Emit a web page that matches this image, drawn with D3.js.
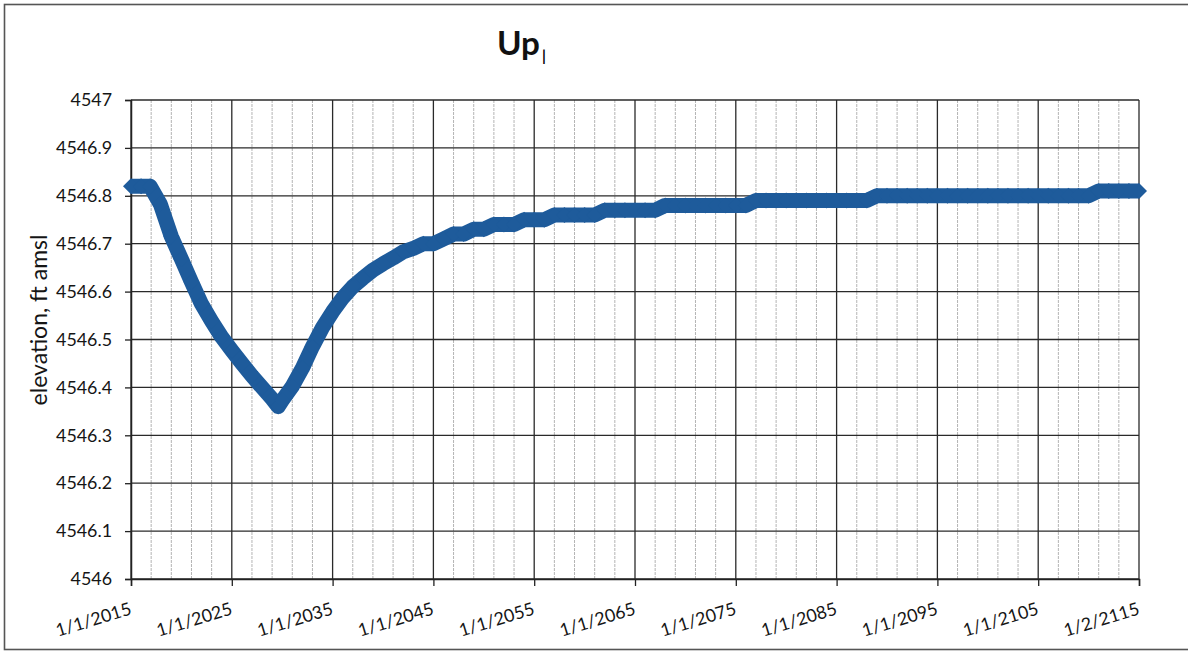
<!DOCTYPE html>
<html>
<head>
<meta charset="utf-8">
<script src="https://cdn.jsdelivr.net/npm/d3@7"></script>
<style>
  html, body { margin: 0; padding: 0; background: #fff; }
  svg { display: block; }
</style>
</head>
<body>
<svg id="chart" width="1188" height="654"></svg>
<script>
// ---- data ----
const title = "Up";
const yAxisTitle = "elevation, ft amsl";

const years = [
  2015, 2016, 2016.9, 2017.9, 2019, 2020, 2021, 2022, 2023, 2024,
  2025, 2026, 2027, 2028, 2029, 2029.6, 2030, 2031, 2032, 2033,
  2034, 2035, 2036, 2037, 2038, 2039, 2040, 2041, 2042, 2043,
  2044, 2045, 2046, 2047, 2048, 2049, 2050, 2051, 2052, 2053,
  2054, 2055, 2056, 2057, 2058, 2059, 2060, 2061, 2062, 2063,
  2064, 2065, 2066, 2067, 2068, 2069, 2070, 2071, 2072, 2073,
  2074, 2075, 2076, 2077, 2078, 2079, 2080, 2081, 2082, 2083,
  2084, 2085, 2086, 2087, 2088, 2089, 2090, 2091, 2092, 2093,
  2094, 2095, 2096, 2097, 2098, 2099, 2100, 2101, 2102, 2103,
  2104, 2105, 2106, 2107, 2108, 2109, 2110, 2111, 2112, 2113,
  2114, 2115
];
const elevation = [
  4546.82, 4546.82, 4546.82, 4546.783, 4546.715, 4546.668, 4546.62, 4546.574, 4546.538, 4546.505,
  4546.477, 4546.45, 4546.424, 4546.40, 4546.376, 4546.36, 4546.373, 4546.402, 4546.44, 4546.485,
  4546.525, 4546.558, 4546.587, 4546.61, 4546.628, 4546.645, 4546.658, 4546.67, 4546.683, 4546.69,
  4546.70, 4546.70, 4546.71, 4546.72, 4546.72, 4546.73, 4546.73, 4546.74, 4546.74, 4546.74,
  4546.75, 4546.75, 4546.75, 4546.76, 4546.76, 4546.76, 4546.76, 4546.76, 4546.77, 4546.77,
  4546.77, 4546.77, 4546.77, 4546.77, 4546.78, 4546.78, 4546.78, 4546.78, 4546.78, 4546.78,
  4546.78, 4546.78, 4546.78, 4546.79, 4546.79, 4546.79, 4546.79, 4546.79, 4546.79, 4546.79,
  4546.79, 4546.79, 4546.79, 4546.79, 4546.79, 4546.80, 4546.80, 4546.80, 4546.80, 4546.80,
  4546.80, 4546.80, 4546.80, 4546.80, 4546.80, 4546.80, 4546.80, 4546.80, 4546.80, 4546.80,
  4546.80, 4546.80, 4546.80, 4546.80, 4546.80, 4546.80, 4546.80, 4546.81, 4546.81, 4546.81,
  4546.81, 4546.81
];

const xTickYears = [2015, 2025, 2035, 2045, 2055, 2065, 2075, 2085, 2095, 2105, 2115];
const xTickLabels = ["1/1/2015", "1/1/2025", "1/1/2035", "1/1/2045", "1/1/2055", "1/1/2065",
                     "1/1/2075", "1/1/2085", "1/1/2095", "1/1/2105", "1/2/2115"];
const xMinorYears = [2017, 2019, 2021, 2023, 2027, 2029, 2031, 2033, 2037, 2039, 2041, 2043,
                     2047, 2049, 2051, 2053, 2057, 2059, 2061, 2063, 2067, 2069, 2071, 2073,
                     2077, 2079, 2081, 2083, 2087, 2089, 2091, 2093, 2097, 2099, 2101, 2103,
                     2107, 2109, 2111, 2113];
const yTickValues = [4546, 4546.1, 4546.2, 4546.3, 4546.4, 4546.5, 4546.6, 4546.7, 4546.8, 4546.9, 4547];
const yTickLabels = ["4546", "4546.1", "4546.2", "4546.3", "4546.4", "4546.5", "4546.6",
                     "4546.7", "4546.8", "4546.9", "4547"];

// ---- layout ----
const plot = { left: 131, right: 1139, top: 100, bottom: 579 };
const FONT = "Lato, 'Open Sans', 'DejaVu Sans', sans-serif";
const BLUE = "#1e5b9b";

const svg = d3.select("#chart");

// size a font so that a sample string has a given width in px
function fitSize(sample, targetWidth, weight) {
  const probe = svg.append("text")
    .attr("font-family", FONT).attr("font-size", 100)
    .attr("font-weight", weight || "normal").text(sample);
  const w = probe.node().getComputedTextLength();
  probe.remove();
  return 100 * targetWidth / w;
}
const yTickSize = Math.min(21, fitSize("4546.8", 56));
const xTickSize = Math.min(22, fitSize("1/1/2015", 78));
const yTitleSize = Math.min(23, fitSize(yAxisTitle, 176));
const titleSize = Math.min(34, fitSize(title, 43, "bold"));

const x = d3.scaleLinear().domain([2015, 2115]).range([plot.left, plot.right]);
const y = d3.scaleLinear().domain([4546, 4547]).range([plot.bottom, plot.top]);

// outer frame (scanned page border)
svg.append("rect")
  .attr("x", 4.5).attr("y", 4.5)
  .attr("width", 1200).attr("height", 645)
  .attr("fill", "none").attr("stroke", "#555").attr("stroke-width", 1.6);

// minor vertical gridlines
svg.append("g").selectAll("line").data(xMinorYears).join("line")
  .attr("x1", d => x(d)).attr("x2", d => x(d))
  .attr("y1", plot.top).attr("y2", plot.bottom)
  .attr("stroke", "#b4b4b4").attr("stroke-width", 1)
  .attr("stroke-dasharray", "3,1");

// major vertical gridlines
svg.append("g").selectAll("line").data(xTickYears).join("line")
  .attr("x1", d => x(d)).attr("x2", d => x(d))
  .attr("y1", plot.top).attr("y2", plot.bottom)
  .attr("stroke", "#2a2a2a").attr("stroke-width", 1.3);

// horizontal gridlines
svg.append("g").selectAll("line").data(yTickValues).join("line")
  .attr("x1", plot.left).attr("x2", plot.right)
  .attr("y1", d => y(d)).attr("y2", d => y(d))
  .attr("stroke", "#2a2a2a").attr("stroke-width", 1.3);

// y axis
const yAxis = d3.axisLeft(y).tickValues(yTickValues)
  .tickFormat((d, i) => yTickLabels[i]).tickSize(6).tickPadding(13);
const gy = svg.append("g").attr("transform", `translate(${plot.left},0)`).call(yAxis);
gy.select(".domain").attr("stroke", "#222").attr("stroke-width", 1.5);
gy.selectAll(".tick line").attr("stroke", "#222").attr("stroke-width", 1.3);
gy.selectAll(".tick text").attr("font-family", FONT).attr("font-size", yTickSize).attr("fill", "#151515");

// x axis
const xAxis = d3.axisBottom(x).tickValues(xTickYears)
  .tickFormat((d, i) => xTickLabels[i]).tickSize(7);
const gx = svg.append("g").attr("transform", `translate(0,${plot.bottom})`).call(xAxis);
gx.select(".domain").attr("stroke", "#222").attr("stroke-width", 1.5);
gx.selectAll(".tick line").attr("stroke", "#222").attr("stroke-width", 1.3);
gx.selectAll(".tick text")
  .attr("font-family", FONT).attr("font-size", xTickSize).attr("fill", "#151515")
  .attr("text-anchor", "end")
  .attr("y", 0).attr("dy", 0)
  .attr("transform", "translate(1,35) rotate(-17)");

// series: thick line + diamond markers
const pts = years.map((yr, i) => [yr, elevation[i]]);
const line = d3.line().x(d => x(d[0])).y(d => y(d[1]));
svg.append("path")
  .attr("d", line(pts))
  .attr("fill", "none").attr("stroke", BLUE)
  .attr("stroke-width", 15).attr("stroke-linejoin", "round").attr("stroke-linecap", "butt");

const r = 8;
svg.append("g").selectAll("path").data(pts).join("path")
  .attr("d", d => {
    const cx = x(d[0]), cy = y(d[1]);
    return `M${cx - r},${cy}L${cx},${cy - r}L${cx + r},${cy}L${cx},${cy + r}Z`;
  })
  .attr("fill", BLUE);

// title
const t = svg.append("text")
  .attr("x", 497).attr("y", 55)
  .attr("font-family", FONT).attr("fill", "#111");
t.append("tspan").attr("font-weight", "bold").attr("font-size", titleSize).text(title);
t.append("tspan").attr("font-size", 15).attr("font-weight", "bold").attr("fill", "#000")
  .attr("dx", 2).attr("dy", 6).text("|");

// y axis title
svg.append("text")
  .attr("transform", `translate(47,320) rotate(-90)`)
  .attr("text-anchor", "middle")
  .attr("font-family", FONT).attr("font-size", yTitleSize).attr("fill", "#151515")
  .text(yAxisTitle);
</script>
</body>
</html>
